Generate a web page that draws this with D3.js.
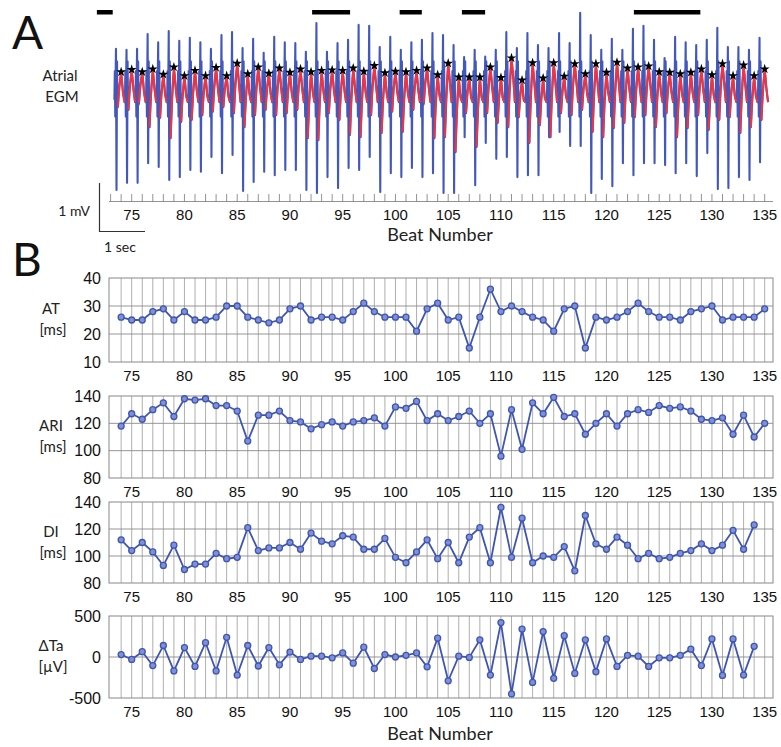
<!DOCTYPE html>
<html><head><meta charset="utf-8">
<script src="https://cdn.jsdelivr.net/npm/d3@7"></script>
<style>body{margin:0;background:#fff;} svg{display:block;}</style>
</head><body>
<script>
// ---------- DATA ----------
const beats = d3.range(74, 136);          // 74..135
const beatsShort = d3.range(74, 135);     // 74..134
const xTicks = [75, 80, 85, 90, 95, 100, 105, 110, 115, 120, 125, 130, 135];

const AT = [26,25,25,28,29,25,28,25,25,26, 30,30,26,25,24,25,29,30,25,26, 26,25,28,31,28,26,26,26,21,29,
            31,25,26,15,26,36,28,30,28,26, 25,21,29,30,15,26,25,26,28,31, 28,26,26,25,28,29,30,25,26,26, 26,29];
const ARI = [118,127,123,130,135,125,138,137,138,133, 133,129,107,126,126,129,122,121,116,119,
             121,118,121,122,124,118,132,131,136,122, 127,122,125,129,120,127,96,130,101,135,
             127,139,125,127,112,120,127,118,127,130, 128,133,131,132,129,123,122,124,112,126, 110,120];
const DI = [112,104,110,103,93,108,90,94,94,102, 98,99,121,104,106,106,110,105,117,111,
            109,115,114,105,105,113,99,95,103,112, 98,110,95,114,121,95,136,99,128,95,
            100,99,107,89,130,109,105,114,108,98, 102,98,99,102,104,109,104,108,119,105, 123];
const dTa = [30,-30,65,-105,140,-170,115,-115,175,-170, 240,-220,140,-110,115,-95,60,-30,10,10,
             -10,50,-75,120,-140,30,0,20,50,-120, 230,-290,10,-5,210,-220,420,-450,340,-310,
             310,-260,260,-200,210,-180,220,-115,20,10, -115,-10,-10,20,95,-105,220,-225,220,-220, 130];

// Atrial EGM, per beat (mV): spike top, spike bottom, red trough, red peak (star)
const egmTop = [0.96,0.94,0.96,1.27,1.10,1.33,1.13,1.19,1.10,0.96, 1.25,1.31,0.98,1.17,0.88,1.21,1.10,1.08,0.90,1.50,
                0.90,1.08,1.15,1.46,1.44,1.00,1.21,0.94,1.10,1.15, 1.29,1.25,1.04,0.79,0.94,0.80,0.94,1.31,0.98,1.29,
                1.04,0.98,1.29,1.08,1.71,1.25,0.94,1.17,0.94,1.38, 1.44,1.15,0.77,1.21,1.10,1.04,1.15,1.40,1.00,1.00, 0.94,1.19];
const egmBottom = [-1.98,-1.83,-1.83,-1.42,-1.50,-1.77,-1.71,-1.56,-1.60,-1.29, -1.63,-1.25,-2.00,-1.81,-1.60,-1.67,-1.56,-1.56,-1.98,-2.04,
                   -1.71,-1.94,-1.52,-1.56,-1.29,-2.02,-1.63,-1.71,-1.52,-1.71, -1.63,-2.04,-2.04,-0.88,-1.88,-1.00,-1.33,-1.29,-1.71,-1.67,
                   -1.67,-0.88,-0.77,-1.06,-1.06,-2.04,-1.75,-1.90,-1.42,-1.67, -1.42,-1.42,-1.46,-1.63,-1.42,-1.69,-1.21,-1.96,-1.94,-1.71, -1.77,-1.40];
const egmRedLow = [-0.25,-0.31,-0.17,-0.67,-0.48,-0.90,-0.56,-0.52,-0.42,-0.35, -0.25,-0.38,-0.67,-0.42,-0.31,-0.42,-0.38,-0.31,-0.90,-0.94,
                   -0.38,-0.52,-0.83,-0.88,-0.42,-0.79,-0.35,-0.77,-0.31,-0.17, -0.90,-0.88,-1.19,-0.38,-1.08,-0.38,-0.58,-0.67,-0.46,-1.00,
                   -0.63,-0.88,-0.38,-0.42,-0.31,-0.77,-0.88,-0.69,-0.58,-0.46, -0.42,-0.67,-0.38,-0.88,-0.69,-0.42,-0.73,-0.52,-0.46,-0.79, -0.67,-0.52];
const egmStar = [0.46,0.51,0.46,0.52,0.41,0.56,0.38,0.49,0.38,0.55, 0.38,0.64,0.42,0.56,0.43,0.54,0.45,0.52,0.46,0.49,
                 0.50,0.49,0.54,0.47,0.59,0.44,0.47,0.46,0.49,0.54, 0.40,0.64,0.35,0.35,0.35,0.56,0.34,0.75,0.29,0.65,
                 0.33,0.65,0.37,0.63,0.42,0.63,0.45,0.66,0.54,0.56, 0.58,0.46,0.45,0.42,0.45,0.52,0.40,0.63,0.38,0.60, 0.38,0.52];
// black bars above the EGM (beat ranges)
const barRanges = [[71.7,73.2],[92.1,95.7],[100.4,102.5],[106.3,108.5],[122.6,128.9]];

const panels = [
  {label:"AT",  unit:"[ms]", xs:beats,      ys:AT,  domain:[10,40],   ticks:[10,20,30,40],    top:278, bottom:362},
  {label:"ARI", unit:"[ms]", xs:beats,      ys:ARI, domain:[80,140],  ticks:[80,100,120,140], top:396, bottom:478},
  {label:"DI",  unit:"[ms]", xs:beatsShort, ys:DI,  domain:[80,140],  ticks:[80,100,120,140], top:502, bottom:583},
  {label:"ΔTa", unit:"[µV]", xs:beatsShort, ys:dTa, domain:[-500,500],ticks:[-500,0,500],     top:616, bottom:698}
];

// ---------- DRAW ----------
const W = 781, H = 747;
const svg = d3.select("body").append("svg").attr("width", W).attr("height", H);
const numFont = "'Liberation Sans', Arial, sans-serif";
const txtFont = "Lato, 'Open Sans', sans-serif";
const blue = "#3f55b3", egmBlue = "#4358bd", red = "#f5333a";
const boxL = 109, boxR = 773;

const x = d3.scaleLinear().domain([75, 135]).range([131.7, 764.7]);

// ----- Panel A -----
svg.append("text").text("A").attr("x", 12).attr("y", 49)
  .attr("font-family", txtFont).attr("font-size", 46).attr("fill", "#111");

svg.append("g").selectAll("rect").data(barRanges).join("rect")
  .attr("x", d => x(d[0])).attr("width", d => x(d[1]) - x(d[0]))
  .attr("y", 10).attr("height", 4.5).attr("fill", "#000");

const yE = d3.scaleLinear().domain([0, 1]).range([95, 47]);

const bluePts = [], redSegs = [];
beats.forEach((b, i) => {
  bluePts.push([b - 0.64, -0.1], [b - 0.6, 0.5], [b - 0.56, -0.45], [b - 0.53, 0.3],
               [b - 0.49, egmTop[i]], [b - 0.44, egmBottom[i]],
               [b - 0.39, 0.7], [b - 0.35, -0.2], [b - 0.31, egmRedLow[i]]);
  const seg = [[b - 0.31, egmRedLow[i]], [b - 0.18, (egmRedLow[i] + egmStar[i]) / 2 + 0.05],
               [b, egmStar[i]], [b + 0.17, egmStar[i] - 0.4], [b + 0.32, -0.15]];
  bluePts.push(...seg.slice(1));
  redSegs.push(seg);
});
const lineE = d3.line().x(d => x(d[0])).y(d => yE(d[1]));
svg.append("path").attr("d", lineE(bluePts)).attr("fill", "none")
  .attr("stroke", egmBlue).attr("stroke-width", 2.1).attr("stroke-linejoin", "round");
const lineR = d3.line().x(d => x(d[0])).y(d => yE(d[1])).curve(d3.curveCatmullRom);
svg.append("g").selectAll("path").data(redSegs).join("path")
  .attr("d", lineR).attr("fill", "none").attr("stroke", red).attr("stroke-width", 2);
svg.append("g").selectAll("path").data(beats).join("path")
  .attr("d", d3.symbol(d3.symbolStar, 30))
  .attr("transform", (b, i) => `translate(${x(b)},${yE(egmStar[i]) - 1})`)
  .attr("fill", "#000");

svg.append("text").text("Atrial").attr("x", 60).attr("y", 81).attr("text-anchor", "middle")
  .attr("font-family", txtFont).attr("font-size", 15).attr("fill", "#222");
svg.append("text").text("EGM").attr("x", 62).attr("y", 102).attr("text-anchor", "middle")
  .attr("font-family", txtFont).attr("font-size", 15).attr("fill", "#222");

// beat axis of panel A
const axA = svg.append("g").attr("stroke", "#777").attr("stroke-width", 0.8);
axA.append("line").attr("x1", boxL).attr("x2", boxR).attr("y1", 201.5).attr("y2", 201.5);
axA.selectAll("line.t").data(d3.range(73, 136)).join("line").attr("class", "t")
  .attr("x1", d => x(d)).attr("x2", d => x(d)).attr("y1", 194).attr("y2", 201.5);
svg.append("g").selectAll("text").data(xTicks).join("text")
  .attr("x", d => x(d)).attr("y", 219.5).attr("text-anchor", "middle").text(d => d)
  .attr("font-family", numFont).attr("font-size", 15).attr("fill", "#111");
svg.append("text").text("Beat Number").attr("x", 440).attr("y", 241).attr("text-anchor", "middle")
  .attr("font-family", txtFont).attr("font-size", 18).attr("fill", "#222");

// scale bar
svg.append("path").attr("d", "M99.5,183V231.5H145").attr("fill", "none").attr("stroke", "#333").attr("stroke-width", 1.2);
svg.append("text").text("1 mV").attr("x", 90).attr("y", 216).attr("text-anchor", "end")
  .attr("font-family", txtFont).attr("font-size", 14).attr("fill", "#222");
svg.append("text").text("1 sec").attr("x", 104).attr("y", 252)
  .attr("font-family", txtFont).attr("font-size", 14).attr("fill", "#222");

// ----- Panel B -----
svg.append("text").text("B").attr("x", 12).attr("y", 276)
  .attr("font-family", txtFont).attr("font-size", 46).attr("fill", "#111");

panels.forEach(p => {
  const y = d3.scaleLinear().domain(p.domain).range([p.bottom, p.top]);
  const g = svg.append("g");
  g.selectAll("line.v").data(beats).join("line").attr("class", "v")
    .attr("x1", d => x(d)).attr("x2", d => x(d)).attr("y1", p.top).attr("y2", p.bottom)
    .attr("stroke", "#9a9a9a").attr("stroke-width", 0.8);
  g.selectAll("line.h").data(p.ticks.slice(1, -1)).join("line").attr("class", "h")
    .attr("x1", boxL).attr("x2", boxR).attr("y1", d => y(d)).attr("y2", d => y(d))
    .attr("stroke", "#8a8a8a").attr("stroke-width", 0.9);
  g.append("rect").attr("x", boxL).attr("y", p.top).attr("width", boxR - boxL).attr("height", p.bottom - p.top)
    .attr("fill", "none").attr("stroke", "#888").attr("stroke-width", 1);
  g.selectAll("text.yt").data(p.ticks).join("text").attr("class", "yt")
    .attr("x", 101).attr("y", d => y(d) + 5.5).attr("text-anchor", "end").text(d => d)
    .attr("font-family", numFont).attr("font-size", 16).attr("fill", "#111");
  g.selectAll("text.xt").data(xTicks).join("text").attr("class", "xt")
    .attr("x", d => x(d)).attr("y", p.bottom + 18.5).attr("text-anchor", "middle").text(d => d)
    .attr("font-family", numFont).attr("font-size", 15).attr("fill", "#111");
  // axis label: two lines, left of the tick labels
  const cy = (p.top + p.bottom) / 2;
  [[p.label, 51, cy - 11], [p.unit, 53, cy + 10]].forEach(([t, lx, ly]) => {
    g.append("text").attr("x", lx).attr("y", ly).attr("dy", "0.35em")
      .attr("text-anchor", "middle").text(t)
      .attr("font-family", txtFont).attr("font-size", 15).attr("fill", "#222");
  });
  const pts = p.xs.map((b, i) => [b, p.ys[i]]);
  g.append("path").attr("d", d3.line().x(d => x(d[0])).y(d => y(d[1]))(pts))
    .attr("fill", "none").attr("stroke", blue).attr("stroke-width", 1.8);
  g.selectAll("circle").data(pts).join("circle")
    .attr("cx", d => x(d[0])).attr("cy", d => y(d[1])).attr("r", 3)
    .attr("fill", "#8090d4").attr("stroke", blue).attr("stroke-width", 1.3);
});

svg.append("text").text("Beat Number").attr("x", 440).attr("y", 740).attr("text-anchor", "middle")
  .attr("font-family", txtFont).attr("font-size", 18).attr("fill", "#222");
</script>
</body></html>
